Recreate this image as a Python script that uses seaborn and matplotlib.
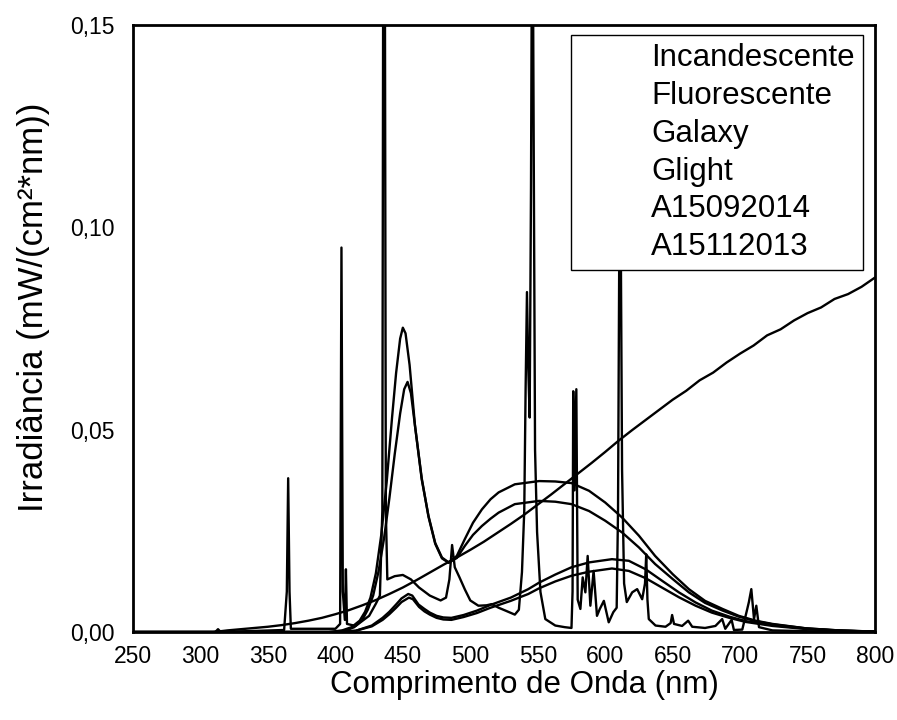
import matplotlib
matplotlib.use("Agg")
import matplotlib.pyplot as plt
from matplotlib.lines import Line2D
import seaborn as sns
import pandas as pd

# ---------------- data ----------------
labels = ["Incandescente", "Fluorescente", "Galaxy", "Glight", "A15092014", "A15112013"]

inc_nm = [310, 320, 330, 340, 350, 360, 370, 380, 390, 400, 410, 420, 430, 440, 450, 460,
          470, 480, 490, 500, 510, 520, 530, 540, 550, 560, 570, 580, 590, 600, 610, 620,
          630, 640, 650, 660, 670, 680, 690, 700, 710, 720, 730, 740, 750, 760, 770, 780,
          790, 800]
inc_val = [0.0, 0.0004, 0.0007, 0.0010, 0.0013, 0.0017, 0.0022, 0.0028, 0.0035, 0.0044,
           0.0054, 0.0066, 0.0079, 0.0094, 0.0110, 0.0128, 0.0147, 0.0166, 0.0184, 0.0203,
           0.0223, 0.0245, 0.0267, 0.0290, 0.0315, 0.0340, 0.0366, 0.0392, 0.0418, 0.0445,
           0.0473, 0.0499, 0.0524, 0.0549, 0.0574, 0.0596, 0.0622, 0.0641, 0.0666, 0.0688,
           0.0708, 0.0733, 0.0748, 0.0770, 0.0788, 0.0802, 0.0823, 0.0835, 0.0853, 0.0876]

flu_nm = [250, 300, 311, 313, 315, 362, 364, 365, 366, 367, 400, 403.5, 404.5, 405.5, 407,
          407.8, 408.6, 415, 425, 430, 433, 434.8, 435.6, 436.5, 437.4, 438.5, 444, 450,
          456, 462, 470, 478, 482, 484.5, 486.5, 488.5, 492, 496, 500, 506, 512, 516, 521,
          526, 533, 536, 538.3, 540, 541, 542, 543, 544, 545, 546, 547, 548, 549.5, 552,
          555.6, 563, 570, 575, 575.8, 576.3, 577.2, 578.6, 579.6, 581.6, 583.3, 585.3,
          587, 589, 591.4, 593.9, 596, 599, 602.6, 606, 608.5, 609.5, 610.5, 611.5, 612.5,
          614, 616, 620, 623.7, 627.4, 629.5, 630.4, 631.3, 632.3, 637.3, 644.7, 648.5,
          649.6, 651, 657, 661.5, 664.5, 674, 681.7, 686.7, 689, 693.7, 695.4, 701.6,
          705.3, 706.5, 708.3, 710.3, 712, 714, 724, 750, 800]
flu_val = [0.0, 0.0, 0.0, 0.0007, 0.0, 0.0005, 0.01, 0.038, 0.01, 0.0008, 0.0008, 0.002,
           0.095, 0.01, 0.003, 0.0155, 0.002, 0.0015, 0.004, 0.007, 0.009, 0.03, 0.2, 0.2,
           0.03, 0.013, 0.0138, 0.0141, 0.013, 0.011, 0.009, 0.0078, 0.0085, 0.013, 0.0215,
           0.016, 0.0135, 0.0105, 0.0078, 0.0065, 0.0066, 0.0069, 0.006, 0.0053, 0.0043,
           0.0055, 0.0148, 0.03, 0.06, 0.084, 0.065, 0.053, 0.11, 0.2, 0.12, 0.045, 0.0247,
           0.0099, 0.0032, 0.0016, 0.0012, 0.001, 0.01, 0.0595, 0.035, 0.06, 0.008, 0.0057,
           0.0135, 0.0098, 0.0188, 0.0065, 0.0151, 0.004, 0.0057, 0.0077, 0.0024, 0.0049,
           0.006, 0.03, 0.10, 0.10, 0.04, 0.012, 0.0074, 0.0098, 0.0106, 0.0081, 0.012,
           0.0192, 0.008, 0.0032, 0.0016, 0.0013, 0.0022, 0.0042, 0.002, 0.0015, 0.0028,
           0.0013, 0.001, 0.0015, 0.0032, 0.0008, 0.003, 0.0005, 0.0006, 0.0057, 0.0074,
           0.0106, 0.0032, 0.0065, 0.0012, 0.0004, 0.0002, 0.0]

gal_nm = [250, 395, 405, 412, 418, 422, 426, 430, 434, 438, 442, 445, 448, 450, 452, 455,
          459, 464, 469, 474, 479, 484, 490, 496, 502, 508.6, 515, 521, 533, 551, 563, 575,
          588, 600, 612.5, 625, 637, 650, 662, 674, 687, 699, 711.5, 724, 749, 773, 800]
gal_val = [0.0, 0.0, 0.0004, 0.0012, 0.0028, 0.005, 0.0085, 0.0145, 0.024, 0.037, 0.053,
           0.064, 0.0725, 0.0752, 0.0738, 0.066, 0.051, 0.0377, 0.0287, 0.022, 0.0184,
           0.0172, 0.0188, 0.023, 0.027, 0.0303, 0.0328, 0.0345, 0.0365, 0.0373, 0.0372,
           0.0368, 0.0349, 0.032, 0.0283, 0.0238, 0.0188, 0.0143, 0.0106, 0.0077, 0.0057,
           0.004, 0.0028, 0.002, 0.0009, 0.0004, 0.0001]

gli_nm = [250, 398, 408, 414, 420, 424, 428, 432, 436, 440, 444, 448, 451, 453.5, 456, 459,
          464, 469, 474, 479, 484, 490, 496, 502, 508.6, 515, 521, 533, 551, 563, 575, 588,
          600, 612.5, 625, 637, 650, 662, 674, 687, 699, 711.5, 724, 749, 773, 800]
gli_val = [0.0, 0.0, 0.0004, 0.0012, 0.003, 0.0055, 0.009, 0.015, 0.023, 0.033, 0.044,
           0.054, 0.06, 0.0618, 0.059, 0.051, 0.038, 0.0285, 0.0218, 0.0182, 0.0171,
           0.0183, 0.0213, 0.024, 0.0262, 0.028, 0.0295, 0.0316, 0.0324, 0.0322, 0.0316,
           0.0299, 0.0275, 0.0246, 0.0209, 0.0168, 0.0131, 0.0098, 0.0072, 0.0053, 0.0038,
           0.0027, 0.0019, 0.0009, 0.0004, 0.0001]

a09_nm = [250, 400, 415, 427, 435, 440, 445, 449, 454, 457, 461.6, 466, 470, 475, 480, 486,
          495, 505, 515, 530, 543, 551, 563, 575, 588, 605, 617.5, 630, 642, 654.6, 667,
          679, 692, 704, 724, 750, 775, 800]
a09_val = [0.0, 0.0, 0.0003, 0.0016, 0.0035, 0.005, 0.0068, 0.0083, 0.0094, 0.009, 0.0068,
           0.0057, 0.0048, 0.004, 0.0036, 0.0035, 0.0042, 0.0053, 0.0067, 0.0085, 0.0106,
           0.0122, 0.0142, 0.016, 0.0172, 0.018, 0.0176, 0.0155, 0.0127, 0.0098, 0.0073,
           0.0053, 0.0038, 0.0027, 0.0017, 0.0008, 0.0003, 0.0001]

a11_nm = [250, 400, 415, 427, 435, 440, 445, 449, 454.5, 457.5, 462, 466, 470, 475, 480,
          486, 495, 505, 515, 530, 543, 551, 563, 575, 588, 605, 617.5, 630, 642, 654.6,
          667, 679, 692, 704, 724, 750, 775, 800]
a11_val = [0.0, 0.0, 0.0003, 0.0014, 0.003, 0.0044, 0.006, 0.0074, 0.0085, 0.0081, 0.0062,
           0.0051, 0.0043, 0.0035, 0.0031, 0.003, 0.0037, 0.0047, 0.006, 0.0077, 0.0094,
           0.0108, 0.0125, 0.0139, 0.0149, 0.0157, 0.0151, 0.0133, 0.011, 0.0086, 0.0065,
           0.0048, 0.0035, 0.0025, 0.0015, 0.0007, 0.0003, 0.0001]

x_ticks = [250, 300, 350, 400, 450, 500, 550, 600, 650, 700, 750, 800]
y_ticks = [0.0, 0.05, 0.10, 0.15]
y_tick_labels = ["0,00", "0,05", "0,10", "0,15"]

# ---------------- build long table ----------------
series = [(inc_nm, inc_val), (flu_nm, flu_val), (gal_nm, gal_val),
          (gli_nm, gli_val), (a09_nm, a09_val), (a11_nm, a11_val)]
frames = []
for lab, (xs, ys) in zip(labels, series):
    frames.append(pd.DataFrame({"nm": xs, "irr": ys, "serie": lab}))
df = pd.concat(frames, ignore_index=True)

# ---------------- plot ----------------
sns.set_style("white")
plt.rcParams["font.family"] = ["Liberation Sans", "DejaVu Sans"]
plt.rcParams["text.color"] = "black"
plt.rcParams["axes.labelcolor"] = "black"
plt.rcParams["xtick.color"] = "black"
plt.rcParams["ytick.color"] = "black"

fig = plt.figure(figsize=(8.97, 7.2), dpi=100)
ax = fig.add_axes([0.1483, 0.1222, 0.8272, 0.8431])

sns.lineplot(data=df, x="nm", y="irr", hue="serie", units="serie", estimator=None,
             sort=False, palette=["black"] * 6, linewidth=1.7, legend=False, ax=ax)

ax.set_xlim(250, 800)
ax.set_ylim(0, 0.15)
ax.set_xticks(x_ticks)
ax.set_xticklabels([str(v) for v in x_ticks])
ax.set_yticks(y_ticks)
ax.set_yticklabels(y_tick_labels)
ax.tick_params(axis="both", length=0, labelsize=16.5, colors="black")
ax.tick_params(axis="x", pad=9)
ax.tick_params(axis="y", pad=13)

for sp in ax.spines.values():
    sp.set_visible(True)
    sp.set_linewidth(2)
    sp.set_color("black")

ax.set_xlabel("Comprimento de Onda (nm)", fontsize=22.5)
ax.set_ylabel("Irradiância (mW/(cm²*nm))", fontsize=25)
ax.xaxis.set_label_coords(0.527, -0.063)
ax.yaxis.set_label_coords(-0.112, 0.535)

handles = [Line2D([], [], color="none") for _ in labels]
leg = ax.legend(handles, labels, loc="upper right", bbox_to_anchor=(0.984, 0.9835),
                borderaxespad=0, fontsize=22.5, frameon=True, fancybox=False,
                framealpha=1, edgecolor="black", handlelength=1.8, handletextpad=0.5,
                borderpad=0.26, labelspacing=0.25)
leg.get_frame().set_linewidth(1.0)
leg.set_zorder(10)

fig.savefig("out.png", dpi=100)
